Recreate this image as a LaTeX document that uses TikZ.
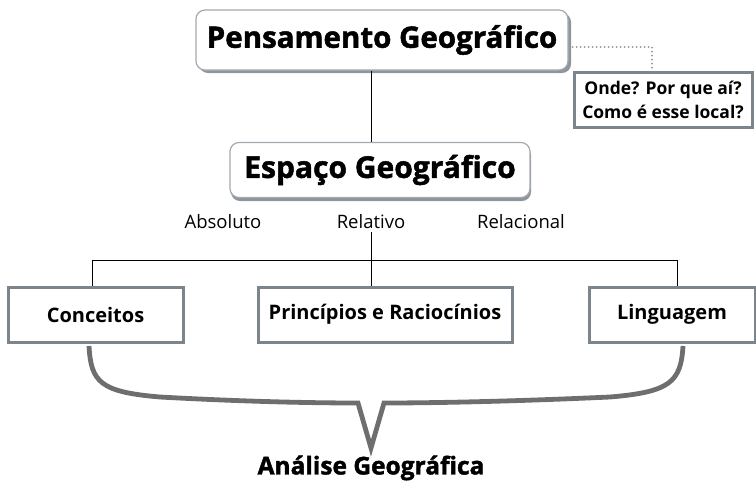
\documentclass[tikz,border=0pt]{standalone}
\usepackage{fontspec}
\setmainfont{Open Sans}
\newfontfamily\xbold{Open Sans}[FakeBold=1.6]
\usetikzlibrary{calc}
\definecolor{rborder}{HTML}{A3A9B0}
\definecolor{rshadow}{HTML}{8E959C}
\definecolor{sborder}{HTML}{7C848C}
\definecolor{bracec}{HTML}{6E6E6E}
\tikzset{
  roundbox/.style={draw=rborder, line width=1.2pt, rounded corners=9pt, fill=white, align=center, inner sep=0pt},
  squarebox/.style={draw=sborder, line width=3pt, fill=white, align=center, inner sep=0pt},
  conn/.style={draw=black, line width=1pt},
  dotline/.style={draw=rshadow, line width=2pt, dash pattern=on 0pt off 4pt, line cap=round},
  lbl/.style={font=\fontsize{18.5}{22}\selectfont, inner sep=0pt},
  boxtxt/.style={font=\bfseries\fontsize{20}{24}\selectfont}
}
\begin{document}
\begin{tikzpicture}[x=1pt,y=-1pt]
\useasboundingbox (0,0) rectangle (756,483);
% shadows
\fill[rshadow, rounded corners=9pt] (199,13) rectangle (571,73);
\fill[rshadow, rounded corners=9pt] (231,146) rectangle (531,201);
\node[roundbox, minimum width=372pt, minimum height=60pt, font=\xbold\bfseries\fontsize{29.5}{34}\selectfont] (P) at (382,40) {Pensamento Geográfico};
\node[roundbox, minimum width=300pt, minimum height=55pt, font=\xbold\bfseries\fontsize{30}{34}\selectfont] (E) at (380,170) {Espaço Geográfico};
\node[squarebox, minimum width=178pt, minimum height=55pt, font=\bfseries\fontsize{17.5}{24}\selectfont] (Q) at (663,100) {Onde? Por que aí?\\Como é esse local?};
\node[lbl] (abs) at (223,222) {Absoluto};
\node[lbl] (rel) at (371,222) {Relativo};
\node[lbl] (rcl) at (521,222) {Relacional};
\node[squarebox, minimum width=175pt, minimum height=55pt, boxtxt] (C) at (95.5,314.5) {Conceitos};
\node[squarebox, minimum width=254pt, minimum height=55pt, boxtxt] (PR) at (385,314.5) {Princípios e Raciocínios};
\node[squarebox, minimum width=166pt, minimum height=55pt, boxtxt] (L) at (672,314.5) {Linguagem};
\node[font=\xbold\bfseries\fontsize{24.5}{30}\selectfont, inner sep=0pt] (A) at (371,468) {Análise Geográfica};
% connectors
\draw[conn] (P.south -| rel) -- (E.north -| rel);
\coordinate (hl) at (92,260);
\coordinate (hr) at (677,260);
\draw[conn] (rel.south) ++(0,3) -- (PR.north -| rel);
\draw[conn] (C.north -| hl) -- (hl) -- (hr) -- (L.north -| hr);
\draw[dotline] (P.east |- 0,47) ++(4,0) -- (652,47) -- (Q.north -| 652,0);
% brace
\coordinate (bl) at (89,346);
\coordinate (br) at (683,346);
\coordinate (tip) at (371,448);
\draw[bracec, line width=4.8pt, line join=miter, miter limit=12]
  (bl) .. controls (91,382) and (100,392) .. (160,397)
  .. controls (250,402) and (320,403) .. (358,403)
  -- (tip) -- (384,403)
  .. controls (422,403) and (500,402) .. (610,397)
  .. controls (670,392) and (681,382) .. (br);
\end{tikzpicture}
\end{document}
